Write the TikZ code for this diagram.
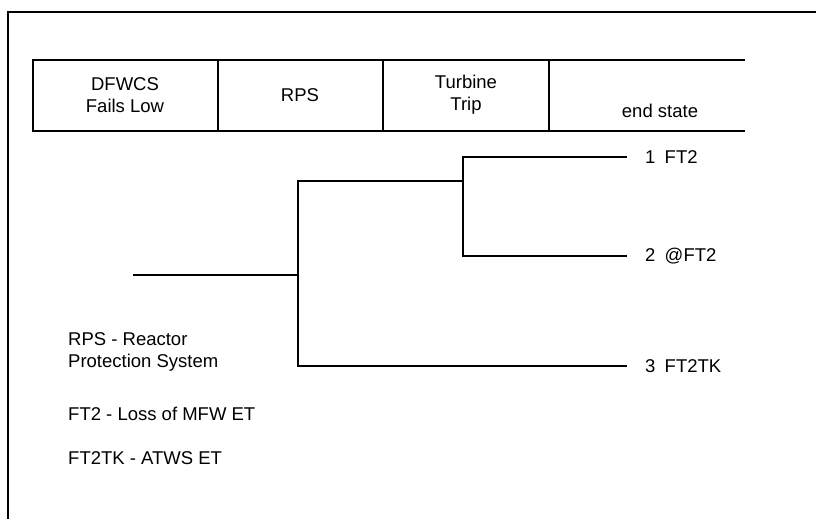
\documentclass[tikz,border=0pt]{standalone}
\usepackage{fontspec}
\setmainfont{Liberation Sans}
\usepackage{tikz}
\usetikzlibrary{positioning, calc}
\tikzset{
    cell/.style={
        align=center,
        inner sep=0pt,
        font=\fontsize{18.5}{22}\selectfont
    },
    branch/.style={
        line width=1.3pt
    },
    endlabel/.style={
        anchor=west,
        inner sep=0pt,
        font=\fontsize{18.5}{22}\selectfont
    },
    legend/.style={
        anchor=west,
        align=left,
        inner sep=0pt,
        font=\fontsize{18.5}{22}\selectfont
    }
}

\begin{document}
\begin{tikzpicture}[x=1pt, y=-1pt]
    \useasboundingbox (0,0) rectangle (816,519);
    % outer frame
    \draw[line width=1.6pt] (8,519) -- (8,12) -- (816,12);

    % header
    \draw[line width=1.4pt] (745,60) -- (33,60) -- (33,131) -- (745,131);
    \foreach \x in {218,383,549}
        \draw[line width=1.3pt] (\x,60) -- (\x,131);
    \node[cell] (dfwcs) at (125,95) {DFWCS\\Fails Low};
    \node[cell] (rpshead) at (300,95) {RPS};
    \node[cell] (turbine) at (466,95) {Turbine\\Trip};
    \node[cell] (endstate) at (660,111) {end state};

    % event tree
    \coordinate (init) at (133,275);
    \coordinate (rps) at (298,275);
    \coordinate (trip) at (463,181);
    \node[endlabel] (end1) at (645,157) {1\enspace FT2};
    \node[endlabel] (end2) at (645,256) {2\enspace @FT2};
    \node[endlabel] (end3) at (645,366) {3\enspace FT2TK};

    \draw[branch] (init) -- (rps);
    \draw[branch] (rps) |- (trip);
    \draw[branch, shorten >=18pt] (rps) |- (end3.west);
    \draw[branch, shorten >=18pt] (trip) |- (end1.west);
    \draw[branch, shorten >=18pt] (trip) |- (end2.west);

    % legend
    \node[legend] (leg1) at (68,352) {RPS - Reactor\\Protection System};
    \node[legend] (leg2) at (68,414) {FT2 - Loss of MFW ET};
    \node[legend] (leg3) at (68,458) {FT2TK - ATWS ET};
\end{tikzpicture}
\end{document}
